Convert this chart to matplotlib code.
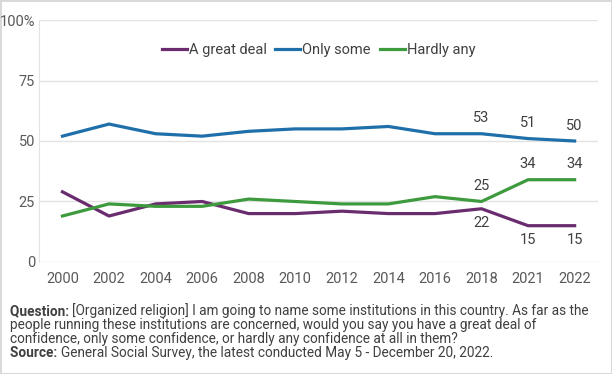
import matplotlib
matplotlib.use("Agg")
import matplotlib.pyplot as plt

plt.rcParams['font.family'] = ['Roboto', 'DejaVu Sans']

years = ["2000", "2002", "2004", "2006", "2008", "2010", "2012", "2014", "2016", "2018", "2021", "2022"]
great_deal = [29, 19, 24, 25, 20, 20, 21, 20, 20, 22, 15, 15]
only_some = [52, 57, 53, 52, 54, 55, 55, 56, 53, 53, 51, 50]
hardly_any = [19, 24, 23, 23, 26, 25, 24, 24, 27, 25, 34, 34]

# which points get a value label, and on which side of the line
labels_above = {"only_some": [9, 10, 11], "hardly_any": [9, 10, 11]}
labels_below = {"great_deal": [9, 10, 11]}

purple = "#6a2c6e"
blue = "#1f6fab"
green = "#3d9b3d"
text_col = "#404040"
grid_col = "#e3e3e3"

fig = plt.figure(figsize=(6.12, 3.74), dpi=100)
fig.patch.set_facecolor("white")
fig.patch.set_edgecolor("#d9d9d9")
fig.patch.set_linewidth(2)
ax = fig.add_axes([0.064, 0.2995, 0.913, 0.647])

x = list(range(len(years)))
ax.plot(x, great_deal, color=purple, lw=2.3, label="A great deal", solid_joinstyle="round")
ax.plot(x, only_some, color=blue, lw=2.3, label="Only some", solid_joinstyle="round")
ax.plot(x, hardly_any, color=green, lw=2.3, label="Hardly any", solid_joinstyle="round")

series = {"great_deal": great_deal, "only_some": only_some, "hardly_any": hardly_any}
for name, idx in labels_above.items():
    for i in idx:
        ax.annotate(str(series[name][i]), (i, series[name][i]), xytext=(0, 6),
                    textcoords="offset points", ha="center", va="bottom",
                    fontsize=10.5, color=text_col)
for name, idx in labels_below.items():
    for i in idx:
        ax.annotate(str(series[name][i]), (i, series[name][i]), xytext=(0, -5),
                    textcoords="offset points", ha="center", va="top",
                    fontsize=10.5, color=text_col)

ax.set_xlim(-0.5, len(years) - 0.5)
ax.set_ylim(0, 100)
ax.set_xticks(x)
ax.set_xticklabels(years)
ax.set_yticks([0, 25, 50, 75, 100])
ax.set_yticklabels(["0", "25", "50", "75", "100%"])
ax.tick_params(length=0, labelsize=10.5, colors="#595959")
ax.tick_params(axis="x", pad=7)
ax.tick_params(axis="y", pad=3)
ax.grid(axis="y", color=grid_col, lw=1)
ax.set_axisbelow(True)
for side in ["top", "right", "bottom"]:
    ax.spines[side].set_visible(False)
ax.spines["left"].set_color(grid_col)

ax.legend(loc="center", bbox_to_anchor=(0.5, 0.876), ncol=3, frameon=False,
          fontsize=10.5, handlelength=1.7, handletextpad=0.15, columnspacing=0.6,
          labelcolor=text_col)

lines = [
    ("Question: ", "[Organized religion] I am going to name some institutions in this country. As far as the"),
    (None, "people running these institutions are concerned, would you say you have a great deal of"),
    (None, "confidence, only some confidence, or hardly any confidence at all in them?"),
    ("Source: ", "General Social Survey, the latest conducted May 5 - December 20, 2022."),
]
y0 = 1 - 311 / 374
dy = 14 / 374
for k, (bold, rest) in enumerate(lines):
    yy = y0 - k * dy
    if bold:
        t = fig.text(10 / 612, yy, bold, fontsize=9.8, fontweight="bold", color=text_col, va="center")
        ax.annotate(rest, xy=(1, 0.5), xycoords=t, va="center", ha="left",
                    fontsize=9.8, color=text_col, annotation_clip=False)
    else:
        fig.text(10 / 612, yy, rest, fontsize=9.8, color=text_col, va="center")

fig.savefig("out.png", dpi=100)
